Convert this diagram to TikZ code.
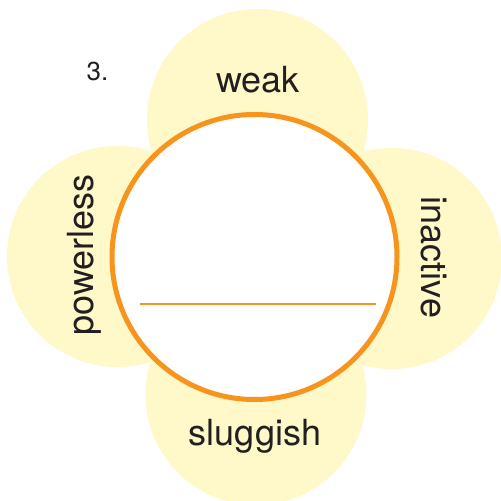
\documentclass[tikz,border=0pt]{standalone}
\usepackage{fontspec}
\setmainfont{TeX Gyre Heros}
\definecolor{petal}{HTML}{FFF8C8}
\definecolor{ring}{HTML}{F7941E}
\definecolor{ink}{HTML}{231F20}
\begin{document}
\begin{tikzpicture}[x=1pt,y=1pt,
  petalstyle/.style={fill=petal, draw=none},
  word/.style={inner sep=0pt, text=ink, font=\fontsize{36}{42}\selectfont, anchor=base}]
\useasboundingbox (0,0) rectangle (501,501);
\fill[white] (0,0) rectangle (501,501);
\begin{scope}
\clip (0,0) rectangle (501,501);
\fill[petalstyle] (257.5,381.5) circle (110.5);
\fill[petalstyle] (117.5,244.5) circle (110.5);
\fill[petalstyle] (391.5,242.5) circle (110.5);
\fill[petalstyle] (256,106.5) circle (110.5);
\end{scope}
\node[circle, draw=ring, fill=white, line width=5pt, minimum size=285pt, inner sep=0pt] (ring) at (254.5,244) {};
\coordinate (la) at (140,197);
\coordinate (lb) at (376,197);
\draw[ring, line width=2.4pt] (la) -- (lb);
\node[word] (weak) at (258,408) {weak};
\node[word] (sluggish) at (255,55) {sluggish};
\node[word, rotate=90] (powerless) at (93,246) {powerless};
\node[word, rotate=-90] (inactive) at (421,243.5) {inactive};
\node[inner sep=0pt, text=ink, font=\fontsize{26}{30}\selectfont, anchor=base west] (num) at (86.5,420.3) {3.};
\end{tikzpicture}
\end{document}
